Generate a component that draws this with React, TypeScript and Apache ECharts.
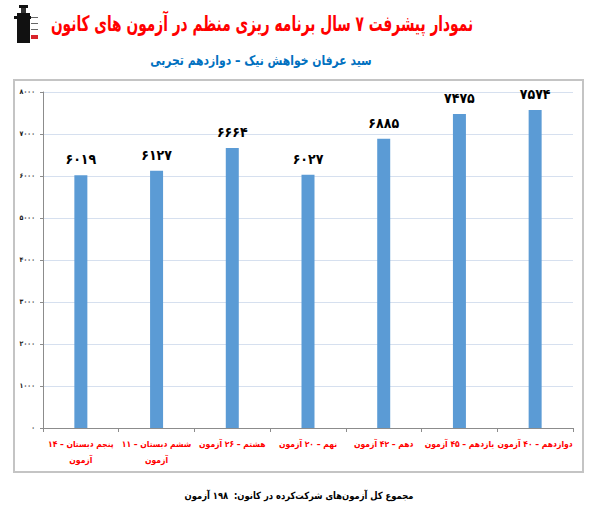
import React, { useEffect, useRef } from "react";
import * as echarts from "echarts";

const categories = [
  "پنجم دبستان – ۱۴\nآزمون",
  "ششم دبستان – ۱۱\nآزمون",
  "هشتم – ۲۶ آزمون",
  "نهم – ۲۰ آزمون",
  "دهم – ۴۲ آزمون",
  "یازدهم – ۴۵ آزمون",
  "دوازدهم – ۴۰ آزمون",
];
const scores = [6019, 6127, 6664, 6027, 6885, 7475, 7574];
const yMin = 0;
const yMax = 8000;
const yStep = 1000;

const titleText = "نمودار پیشرفت ۷ سال برنامه ریزی منظم در آزمون های کانون";
const subtitleText = "سید عرفان خواهش نیک – دوازدهم تجربی";
const footerText = "مجموع کل آزمون‌های شرکت‌کرده در کانون:  ۱۹۸ آزمون";

const faDigits = "۰۱۲۳۴۵۶۷۸۹";
const toFa = (v: number | string) => String(v).replace(/[0-9]/g, (d) => faDigits[Number(d)]);

const FONT = "'DejaVu Sans', sans-serif";
const CFONT = "'DejaVu Sans Condensed', 'DejaVu Sans', sans-serif";

export default function App() {
  const ref = useRef<HTMLDivElement>(null);
  useEffect(() => {
    if (!ref.current) return;
    const chart = echarts.init(ref.current, null, { renderer: "svg" });
    chart.setOption({
      animation: false,
      backgroundColor: "#ffffff",
      grid: { left: 43, right: 23, top: 92, bottom: 91, containLabel: false },
      xAxis: {
        type: "category",
        data: categories,
        axisLine: { lineStyle: { color: "#8c8c8c", width: 1 } },
        axisTick: { show: true, length: 4, lineStyle: { color: "#8c8c8c" } },
        axisLabel: {
          color: "#ff0000",
          fontFamily: CFONT,
          fontWeight: "bold",
          fontSize: 8.5,
          lineHeight: 16,
          margin: 8,
          interval: 0,
        },
      },
      yAxis: {
        type: "value",
        min: yMin,
        max: yMax,
        interval: yStep,
        axisLine: { show: true, lineStyle: { color: "#8c8c8c", width: 1 } },
        axisTick: { show: true, length: 3, inside: false, lineStyle: { color: "#8c8c8c" } },
        splitLine: { lineStyle: { color: "#d6e0ef", width: 1 } },
        axisLabel: {
          color: "#1a1a1a",
          fontFamily: CFONT,
          fontWeight: "bold",
          fontSize: 7,
          margin: 8,
          formatter: (v: number) => toFa(v),
        },
      },
      series: [
        {
          type: "bar",
          data: scores,
          barWidth: 13,
          itemStyle: { color: "#5b9bd5" },
          label: {
            show: true,
            position: "top",
            distance: 9,
            color: "#000000",
            fontFamily: CFONT,
            fontWeight: "bold",
            fontSize: 14,
            formatter: (p: any) => toFa(p.value),
          },
        },
      ],
      graphic: [
        {
          type: "rect",
          shape: { x: 14, y: 80, width: 569, height: 392 },
          style: { fill: "none", stroke: "#c4c4c4", lineWidth: 2 },
          z: 0,
        },
        {
          type: "text",
          x: 262,
          y: 23,
          scaleX: 0.64,
          style: {
            text: titleText,
            fill: "#ff0000",
            font: `bold 21.5px ${FONT}`,
            textAlign: "center",
            textVerticalAlign: "middle",
          },
        },
        {
          type: "text",
          x: 261,
          y: 61,
          scaleX: 0.8,
          style: {
            text: subtitleText,
            fill: "#0070c0",
            font: `bold 13.5px ${FONT}`,
            textAlign: "center",
            textVerticalAlign: "middle",
          },
        },
        {
          type: "text",
          x: 299,
          y: 495,
          scaleX: 0.84,
          style: {
            text: footerText,
            fill: "#000000",
            font: `bold 10px ${FONT}`,
            textAlign: "center",
            textVerticalAlign: "middle",
          },
        },
        {
          type: "group",
          x: 14,
          y: 5,
          children: [
            { type: "rect", shape: { x: 5, y: 0, width: 9, height: 3 }, style: { fill: "#111" } },
            { type: "rect", shape: { x: 7, y: 3, width: 5, height: 5 }, style: { fill: "#333" } },
            { type: "rect", shape: { x: 3, y: 8, width: 13, height: 30 }, style: { fill: "#111" } },
            { type: "rect", shape: { x: 0, y: 11, width: 17, height: 3 }, style: { fill: "#111" } },
            { type: "rect", shape: { x: 17, y: 12, width: 7, height: 1 }, style: { fill: "#666" } },
            { type: "rect", shape: { x: 17, y: 18, width: 7, height: 1 }, style: { fill: "#666" } },
            { type: "rect", shape: { x: 17, y: 24, width: 7, height: 1 }, style: { fill: "#666" } },
            { type: "rect", shape: { x: 17, y: 30, width: 7, height: 4 }, style: { fill: "#d9232a" } },
          ],
        },
      ],
    });
    return () => chart.dispose();
  }, []);
  return (
    <div
      ref={ref}
      style={{ position: "absolute", left: 0, top: 0, width: 596, height: 519 }}
    />
  );
}
